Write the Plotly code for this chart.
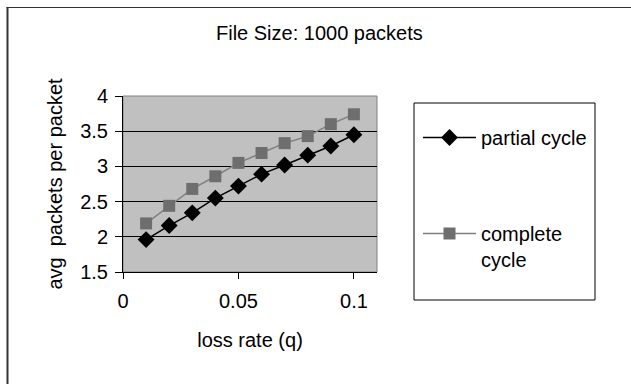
import plotly.graph_objects as go

# loss rate q and average packets sent per delivered packet
loss_rate = [0.01, 0.02, 0.03, 0.04, 0.05, 0.06, 0.07, 0.08, 0.09, 0.10]
partial_cycle = [1.96, 2.16, 2.34, 2.55, 2.72, 2.89, 3.02, 3.16, 3.29, 3.45]
complete_cycle = [2.19, 2.44, 2.68, 2.86, 3.05, 3.19, 3.33, 3.43, 3.60, 3.74]

x_ticks = [0, 0.05, 0.1]
x_tick_labels = ["0", "0.05", "0.1"]
y_ticks = [1.5, 2, 2.5, 3, 3.5, 4]
y_tick_labels = ["1.5", "2", "2.5", "3", "3.5", "4"]

W, H = 631, 384
L, R, T, B = 123, 377, 96, 272  # plot area in pixels


def px(x):
    return (x - L) / (R - L)


def py(y):
    return (B - y) / (B - T)


FONT = "Liberation Sans, Arial, sans-serif"
FS = 20

fig = go.Figure()
fig.add_trace(go.Scatter(
    x=loss_rate, y=partial_cycle, name="partial cycle", mode="lines+markers",
    line=dict(color="black", width=1.5),
    marker=dict(symbol="diamond", size=13, color="black"),
    legendgroup="a",
))
fig.add_trace(go.Scatter(
    x=loss_rate, y=complete_cycle, name="complete<br>cycle", mode="lines+markers",
    line=dict(color="#808080", width=1.5),
    marker=dict(symbol="square", size=12, color="#6e6e6e"),
    legendgroup="b",
))

shapes = [
    # plot frame (top and right edges)
    dict(type="rect", xref="paper", yref="paper", x0=0, x1=1, y0=0, y1=1,
         line=dict(color="#808080", width=1), layer="below"),
    # legend box
    dict(type="rect", xref="paper", yref="paper", x0=px(414), x1=px(595),
         y0=py(300), y1=py(103), line=dict(color="black", width=1)),
    # chart border
    dict(type="line", xref="paper", yref="paper", x0=px(7.5), x1=px(7.5),
         y0=py(7), y1=py(400), line=dict(color="#333333", width=2)),
    dict(type="line", xref="paper", yref="paper", x0=px(6.5), x1=px(700),
         y0=py(7.5), y1=py(7.5), line=dict(color="#333333", width=1)),
]

annotations = [
    dict(text="File Size: 1000 packets", xref="paper", yref="paper",
         x=px(319), y=py(33), showarrow=False, xanchor="center", yanchor="middle",
         font=dict(size=FS, color="black", family=FONT)),
]

fig.update_layout(
    width=W, height=H,
    margin=dict(l=L, r=W - R, t=T, b=H - B),
    paper_bgcolor="white", plot_bgcolor="#c0c0c0",
    font=dict(family=FONT, size=FS, color="black"),
    showlegend=True,
    legend=dict(
        x=px(418), y=py(118), xanchor="left", yanchor="top",
        bgcolor="rgba(0,0,0,0)", borderwidth=0,
        traceorder="grouped", tracegroupgap=67, valign="top",
        itemwidth=53, font=dict(size=FS, family=FONT),
    ),
    shapes=shapes,
    annotations=annotations,
    xaxis=dict(
        range=[0, 0.11], tickvals=x_ticks, ticktext=x_tick_labels,
        showgrid=False, zeroline=False, showline=True, linecolor="black",
        linewidth=1, ticks="outside", ticklen=6, tickcolor="black",
        ticklabelstandoff=5,
        title=dict(text="loss rate (q)", standoff=21, font=dict(size=FS)),
        tickfont=dict(size=FS),
    ),
    yaxis=dict(
        range=[1.5, 4], tickvals=y_ticks, ticktext=y_tick_labels,
        showgrid=True, gridcolor="black", gridwidth=1, zeroline=False,
        showline=True, linecolor="black", linewidth=1, ticks="outside",
        ticklen=7, tickcolor="black", ticklabelstandoff=3,
        title=dict(text="avg  packets per packet", standoff=12, font=dict(size=FS)),
        tickfont=dict(size=FS),
    ),
)

fig.write_html("out.html")
